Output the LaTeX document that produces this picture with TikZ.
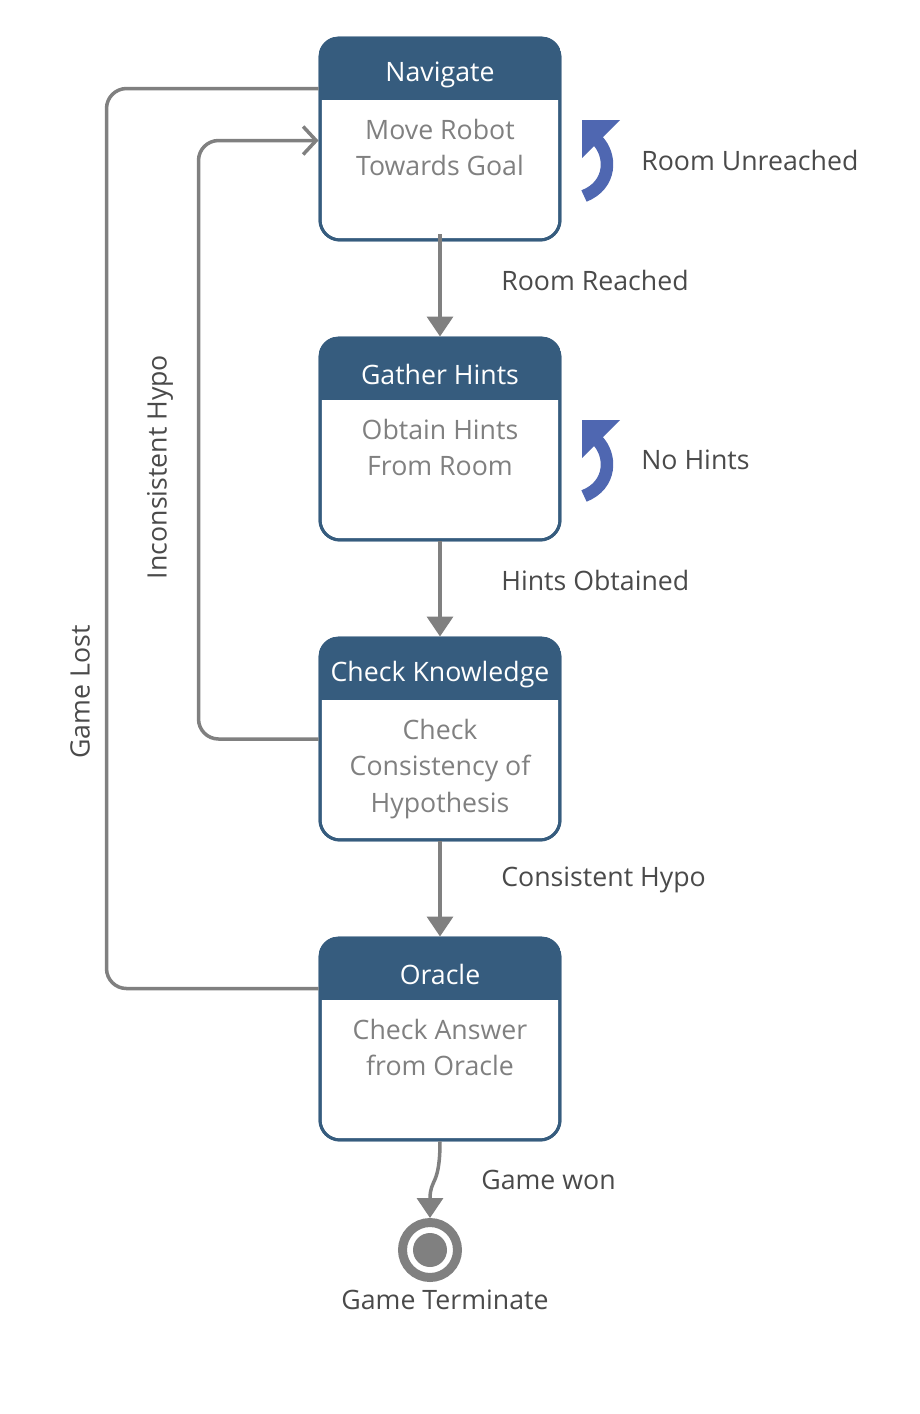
\documentclass[tikz,border=0pt]{standalone}
\usepackage{fontspec}
\setmainfont{Open Sans}
\usetikzlibrary{arrows.meta,calc,positioning}
\definecolor{headblue}{HTML}{365C7E}
\definecolor{linegray}{HTML}{808080}
\definecolor{bodygray}{HTML}{808080}
\definecolor{lblgray}{HTML}{4A4A4A}
\definecolor{loopblue}{HTML}{4F67B1}
\tikzset{
  statebox/.style={draw=headblue, line width=0.06cm, rounded corners=0.4cm,
    minimum width=4.8cm, minimum height=4.04cm, inner sep=0pt},
  title/.style={text=white, font=\fontsize{15.2}{18}\selectfont},
  body/.style={text=bodygray, align=center, font=\fontsize{15.2}{21}\selectfont},
  lbl/.style={text=lblgray, inner sep=0pt, font=\fontsize{15.2}{18}\selectfont},
  flow/.style={draw=linegray, line width=0.07cm, -{Triangle[width=0.52cm,length=0.4cm]}},
  backflow/.style={draw=linegray, line width=0.07cm, rounded corners=0.4cm},
  endstate/.style={circle, draw=linegray, line width=0.18cm, minimum size=1.1cm, inner sep=0pt}
}
% name, x, top, title, body
\newcommand{\stateblock}[5]{%
  \node[statebox] (#1) at (#2,#3+101) {};
  \begin{scope}
    \clip[rounded corners=0.4cm] (#1.north west) rectangle (#1.south east);
    \fill[headblue] (#1.north west) rectangle ($(#1.north east)+(0,63)$);
  \end{scope}
  \node[statebox] at (#1) {};
  \node[title] (#1title) at ($(#1.north)+(0,38)$) {#4};
  \node[body, anchor=north] (#1body) at ($(#1.north)+(0,76)$) {#5};
}
% blue self loop, top left corner of the head
\newcommand{\selfloop}[2]{%
  \fill[loopblue] (#1,#2) -- ++(38,0) -- ++(-38,38) -- cycle;
  \draw[loopblue, line width=0.25cm] (#1+15,#2+20) .. controls (#1+30,#2+35) and (#1+30,#2+65) .. (#1+2,#2+76);
}
\begin{document}
\begin{tikzpicture}[x=0.02cm, y=-0.02cm]
  \useasboundingbox (0,0) rectangle (920,1414);
  % states
  \stateblock{nav}{440}{38}{Navigate}{Move Robot\\Towards Goal}
  \stateblock{hints}{440}{338}{Gather Hints}{Obtain Hints\\From Room}
  \stateblock{check}{440}{638}{Check Knowledge}{Check\\Consistency of\\Hypothesis}
  \stateblock{oracle}{440}{938}{Oracle}{Check Answer\\from Oracle}
  \node[endstate] (term) at (430,1250) {};
  \fill[linegray] (term.center) circle (0.34cm);
  % self loops
  \selfloop{582}{120}
  \selfloop{582}{420}
  % transitions
  \draw[flow] ($(nav.south)+(0,-7)$) -- (hints.north);
  \draw[flow] (hints.south) -- (check.north);
  \draw[flow] (check.south) .. controls +(0,40) and +(0,-40) .. (oracle.north);
  \draw[flow] (oracle.south) .. controls +(0,45) and +(0,-40) .. (term.north);
  \draw[backflow, -{Straight Barb[length=0.26cm,width=0.56cm]}]
    (check.west) -- ++(-120,0) |- ($(nav.north west)+(0,104)$);
  \draw[backflow] ($(oracle.north west)+(0,52)$) -- ++(-212,0) |- ($(nav.north west)+(0,52)$);
  % labels
  \node[lbl, anchor=west] (lblunreached) at (641,160) {Room Unreached};
  \node[lbl, anchor=west] (lblreached) at (501,280) {Room Reached};
  \node[lbl, anchor=west] (lblnohints) at (641,460) {No Hints};
  \node[lbl, anchor=west] (lblobtained) at (501,580) {Hints Obtained};
  \node[lbl, anchor=west] (lblconsistent) at (501,880) {Consistent Hypo};
  \node[lbl, anchor=west] (lblwon) at (481,1180) {Game won};
  \node[lbl] (lblterm) at (445,1300) {Game Terminate};
  \node[lbl, rotate=90] (lblinconsistent) at (160,467) {Inconsistent Hypo};
  \node[lbl, rotate=90] (lbllost) at (80,692) {Game Lost};
\end{tikzpicture}
\end{document}
